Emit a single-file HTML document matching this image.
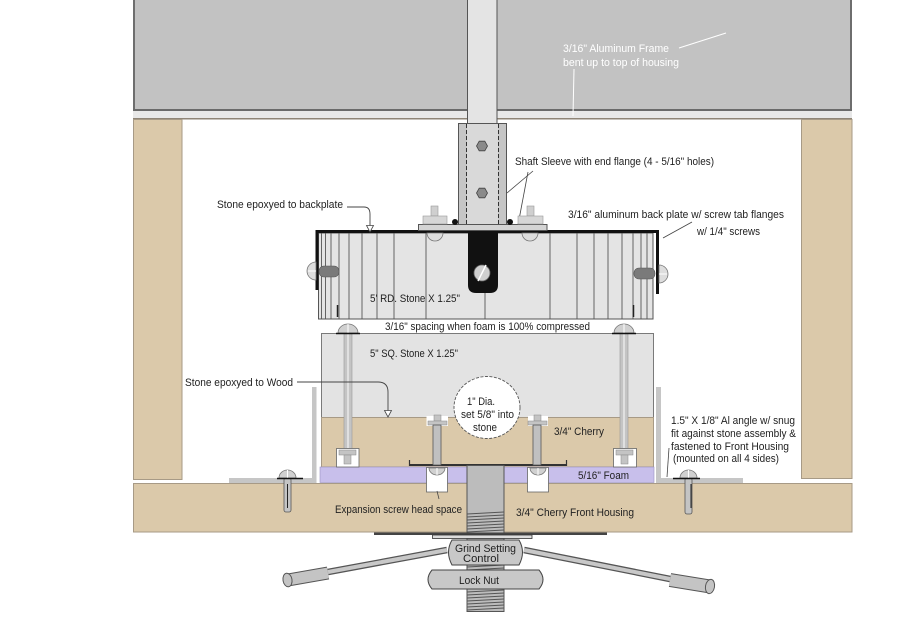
<!DOCTYPE html>
<html><head><meta charset="utf-8"><style>
html,body{margin:0;padding:0;background:#fff;}
svg{display:block;}
text{font-family:"Liberation Sans",sans-serif;font-size:11px;fill:#222;}
</style></head><body>
<svg width="900" height="636" viewBox="0 0 900 636" xmlns="http://www.w3.org/2000/svg">
<rect width="900" height="636" fill="#fff"/>

<!-- Top grey panel -->
<rect x="133" y="0" width="719" height="110" fill="#c2c2c2"/>
<rect x="133" y="0" width="2" height="111" fill="#6e6e6e"/>
<rect x="850" y="0" width="2" height="111" fill="#6e6e6e"/>
<rect x="133" y="109" width="719" height="2" fill="#6a6a6a"/>
<rect x="133" y="111" width="719" height="7" fill="#e8e8e8"/>
<rect x="133" y="118" width="719" height="1.5" fill="#8f8577"/>

<!-- white labels top -->
<text x="563" y="52" textLength="106" lengthAdjust="spacingAndGlyphs" style="fill:#fff">3/16" Aluminum Frame</text>
<text x="563" y="66" textLength="116" lengthAdjust="spacingAndGlyphs" style="fill:#fff">bent up  to top of housing</text>
<line x1="679" y1="48" x2="726" y2="33" stroke="#fff" stroke-width="1"/>
<line x1="574" y1="69" x2="573" y2="116" stroke="#fff" stroke-width="1"/>

<!-- Tan side columns -->
<rect x="133.5" y="119.5" width="48.5" height="360" fill="#dbc9aa" stroke="#a79a86" stroke-width="1"/>
<rect x="801.5" y="119.5" width="50.5" height="359" fill="#dbc9aa" stroke="#a79a86" stroke-width="1"/>

<!-- Front housing -->
<rect x="133.5" y="483.5" width="718.5" height="48.5" fill="#dbc9aa" stroke="#a79a86" stroke-width="1"/>

<!-- Top shaft -->
<rect x="467.5" y="-1" width="29.5" height="125" fill="#e4e4e4" stroke="#555" stroke-width="1"/>

<!-- Sleeve -->
<rect x="458.5" y="123.5" width="48" height="101" fill="#c6c6c6" stroke="#555" stroke-width="1"/>
<rect x="467" y="124" width="31" height="100" fill="#d9d9d9"/>
<line x1="466.5" y1="124" x2="466.5" y2="224" stroke="#333" stroke-width="1" stroke-dasharray="4 2"/>
<line x1="498.5" y1="124" x2="498.5" y2="224" stroke="#333" stroke-width="1" stroke-dasharray="4 2"/>
<polygon points="487.5,146 484.8,150.8 479.2,150.8 476.5,146 479.2,141.2 484.8,141.2" fill="#8a8a8a" stroke="#444" stroke-width="0.8"/>
<polygon points="487.5,193 484.8,197.8 479.2,197.8 476.5,193 479.2,188.2 484.8,188.2" fill="#8a8a8a" stroke="#444" stroke-width="0.8"/>

<!-- Shaft sleeve label -->
<text x="515" y="165" textLength="199" lengthAdjust="spacingAndGlyphs">Shaft Sleeve with end flange (4 - 5/16" holes)</text>
<line x1="533" y1="171" x2="507" y2="193" stroke="#444" stroke-width="0.8"/>
<line x1="528" y1="172" x2="518" y2="225" stroke="#444" stroke-width="0.8"/>

<!-- Round stone body -->
<rect x="318.5" y="233" width="334.5" height="86" fill="#e4e4e4" stroke="#555" stroke-width="1"/>
<g stroke="#555" stroke-width="0.9">
<line x1="321.5" y1="233" x2="321.5" y2="319"/>
<line x1="325.5" y1="233" x2="325.5" y2="319"/>
<line x1="331" y1="233" x2="331" y2="319"/>
<line x1="339" y1="233" x2="339" y2="319"/>
<line x1="349" y1="233" x2="349" y2="319"/>
<line x1="362" y1="233" x2="362" y2="319"/>
<line x1="377" y1="233" x2="377" y2="319"/>
<line x1="394" y1="233" x2="394" y2="319"/>
<line x1="426" y1="233" x2="426" y2="319"/>
<line x1="485" y1="290" x2="485" y2="319"/>
<line x1="550" y1="233" x2="550" y2="319"/>
<line x1="577" y1="233" x2="577" y2="319"/>
<line x1="594" y1="233" x2="594" y2="319"/>
<line x1="608" y1="233" x2="608" y2="319"/>
<line x1="622" y1="233" x2="622" y2="319"/>
<line x1="633" y1="233" x2="633" y2="319"/>
<line x1="641" y1="233" x2="641" y2="319"/>
<line x1="647" y1="233" x2="647" y2="319"/>
</g>
<line x1="337.5" y1="305" x2="337.5" y2="317" stroke="#222" stroke-width="1.5"/>
<line x1="633.5" y1="305" x2="633.5" y2="317" stroke="#222" stroke-width="1.5"/>

<!-- back plate black -->
<path d="M317,290 V231.5 H657.5 V294" fill="none" stroke="#111" stroke-width="3"/>

<!-- side screws -->
<path d="M316,262 A9,9 0 0 0 316,280 Z" fill="#ddd" stroke="#777" stroke-width="0.8"/>
<line x1="308" y1="271" x2="316" y2="271" stroke="#fff" stroke-width="1"/>
<rect x="319" y="266" width="20" height="11" rx="5" fill="#7a7a7a" stroke="#555" stroke-width="0.6"/>
<path d="M659,265 A9,9 0 0 1 659,283 Z" fill="#ddd" stroke="#777" stroke-width="0.8"/>
<line x1="659" y1="274" x2="667" y2="274" stroke="#fff" stroke-width="1"/>
<rect x="634" y="268" width="21" height="11" rx="5" fill="#7a7a7a" stroke="#555" stroke-width="0.6"/>

<!-- top semi circle heads -->
<path d="M427,233 A8,8 0 0 0 443,233 Z" fill="#ddd" stroke="#777" stroke-width="0.8"/>
<path d="M522,233 A8,8 0 0 0 538,233 Z" fill="#ddd" stroke="#777" stroke-width="0.8"/>

<!-- Flange plate & bolts -->
<rect x="418.5" y="224.5" width="128.5" height="6" fill="#d4d4d4" stroke="#555" stroke-width="1"/>
<rect x="431" y="206" width="7" height="10" fill="#cfcfcf" stroke="#999" stroke-width="0.6"/>
<rect x="423" y="216" width="24" height="8" fill="#d6d6d6" stroke="#999" stroke-width="0.6"/>
<rect x="527" y="206" width="7" height="10" fill="#cfcfcf" stroke="#999" stroke-width="0.6"/>
<rect x="518" y="216" width="25" height="8" fill="#d6d6d6" stroke="#999" stroke-width="0.6"/>
<circle cx="455" cy="222" r="3" fill="#111"/>
<circle cx="510" cy="222" r="3" fill="#111"/>

<!-- Black tab -->
<path d="M468,231 H498 V285 Q498,293 490,293 H476 Q468,293 468,285 Z" fill="#111"/>
<circle cx="482" cy="273" r="8" fill="#cfcfcf" stroke="#666" stroke-width="0.8"/>
<line x1="478" y1="281" x2="486" y2="265" stroke="#fff" stroke-width="1.5"/>

<!-- labels round stone -->
<text x="217" y="208" textLength="126" lengthAdjust="spacingAndGlyphs">Stone epoxyed to backplate</text>
<path d="M347,207 H364 Q370,207 370,214 V226" fill="none" stroke="#444" stroke-width="0.9"/>
<polygon points="366.5,225.5 373.5,225.5 370,232" fill="#fff" stroke="#444" stroke-width="0.8"/>
<text x="568" y="218" textLength="216" lengthAdjust="spacingAndGlyphs">3/16" aluminum back plate w/ screw tab flanges</text>
<text x="697" y="235" textLength="63" lengthAdjust="spacingAndGlyphs">w/ 1/4" screws</text>
<line x1="692" y1="222" x2="663" y2="238" stroke="#444" stroke-width="0.8"/>
<text x="370" y="302" textLength="90" lengthAdjust="spacingAndGlyphs">5' RD. Stone  X 1.25"</text>
<text x="385" y="330" textLength="205" lengthAdjust="spacingAndGlyphs">3/16" spacing when foam is 100% compressed</text>

<!-- Aluminum angles -->
<rect x="312" y="387" width="4.5" height="96" fill="#c6c6c6"/>
<rect x="229" y="478" width="87" height="5" fill="#c6c6c6"/>
<rect x="656" y="387" width="5" height="96" fill="#c6c6c6"/>
<rect x="656" y="478" width="87" height="5" fill="#c6c6c6"/>

<!-- Square stone -->
<rect x="321.5" y="333.5" width="332" height="84" fill="#e3e3e3" stroke="#7a7a7a" stroke-width="1"/>
<!-- Cherry block -->
<rect x="321.5" y="417.5" width="332" height="49.5" fill="#dbc9aa" stroke="#a79a86" stroke-width="1"/>
<!-- Foam -->
<rect x="320" y="467" width="334" height="15.5" fill="#c8bfeb" stroke="#9a92bf" stroke-width="0.6"/>

<!-- vertical screws through square stone -->
<rect x="344" y="333" width="8" height="116" fill="#c4c4c4" stroke="#999" stroke-width="0.6"/>
<line x1="348" y1="334" x2="348" y2="448" stroke="#e0e0e0" stroke-width="2"/>
<path d="M338,333 A10,9 0 0 1 358,333 Z" fill="#d0d0d0" stroke="#777" stroke-width="0.8"/>
<line x1="348" y1="324" x2="348" y2="333" stroke="#fff" stroke-width="1"/>
<line x1="336" y1="333.5" x2="360" y2="333.5" stroke="#111" stroke-width="1.5"/>
<rect x="336.5" y="448.5" width="22.5" height="18.5" fill="#fff" stroke="#666" stroke-width="0.8"/>
<rect x="339" y="450" width="17" height="5" fill="#c4c4c4" stroke="#888" stroke-width="0.5"/>
<rect x="344" y="455" width="7" height="9" fill="#c4c4c4" stroke="#888" stroke-width="0.5"/>

<rect x="620" y="333" width="8" height="116" fill="#c4c4c4" stroke="#999" stroke-width="0.6"/>
<line x1="624" y1="334" x2="624" y2="448" stroke="#e0e0e0" stroke-width="2"/>
<path d="M614,333 A10,9 0 0 1 634,333 Z" fill="#d0d0d0" stroke="#777" stroke-width="0.8"/>
<line x1="624" y1="324" x2="624" y2="333" stroke="#fff" stroke-width="1"/>
<line x1="612" y1="333.5" x2="636" y2="333.5" stroke="#111" stroke-width="1.5"/>
<rect x="613.5" y="448.5" width="23" height="18.5" fill="#fff" stroke="#666" stroke-width="0.8"/>
<rect x="616" y="450" width="17" height="5" fill="#c4c4c4" stroke="#888" stroke-width="0.5"/>
<rect x="621" y="455" width="7" height="9" fill="#c4c4c4" stroke="#888" stroke-width="0.5"/>

<!-- Screws into housing through angles -->
<rect x="284" y="478" width="7" height="34" rx="2" fill="#c4c4c4" stroke="#555" stroke-width="0.8"/>
<line x1="287.5" y1="484" x2="287.5" y2="508" stroke="#222" stroke-width="1"/>
<path d="M279,478 A8.5,8 0 0 1 296,478 Z" fill="#d0d0d0" stroke="#777" stroke-width="0.8"/>
<line x1="287.5" y1="470" x2="287.5" y2="478" stroke="#fff" stroke-width="1"/>
<line x1="277" y1="478.5" x2="303" y2="478.5" stroke="#111" stroke-width="1.5"/>

<rect x="685" y="478" width="7" height="36" rx="2" fill="#c4c4c4" stroke="#555" stroke-width="0.8"/>
<line x1="691" y1="484" x2="691" y2="508" stroke="#222" stroke-width="1"/>
<path d="M680,478 A8.5,8 0 0 1 697,478 Z" fill="#d0d0d0" stroke="#777" stroke-width="0.8"/>
<line x1="688.5" y1="470" x2="688.5" y2="478" stroke="#fff" stroke-width="1"/>
<line x1="673" y1="478.5" x2="700" y2="478.5" stroke="#111" stroke-width="1.5"/>

<!-- Flange plate under cherry -->
<line x1="409" y1="465" x2="567" y2="465" stroke="#333" stroke-width="2"/>
<line x1="409.5" y1="460" x2="409.5" y2="466" stroke="#333" stroke-width="1.2"/>
<line x1="566.5" y1="460" x2="566.5" y2="466" stroke="#333" stroke-width="1.2"/>

<!-- cherry screws -->
<rect x="426.5" y="416" width="21.5" height="10" fill="#fff"/>
<rect x="434" y="415" width="7" height="6" fill="#c4c4c4" stroke="#888" stroke-width="0.5"/>
<rect x="428" y="421" width="19" height="4" fill="#c4c4c4" stroke="#888" stroke-width="0.5"/>
<rect x="433" y="425" width="8" height="40" fill="#c0c0c0" stroke="#555" stroke-width="0.8"/>
<rect x="426.5" y="467.5" width="21" height="24.5" fill="#fff" stroke="#666" stroke-width="0.8"/>
<path d="M429,468 A8,7 0 0 0 445,468 Z" fill="#d0d0d0" stroke="#777" stroke-width="0.8"/>
<line x1="437" y1="468" x2="437" y2="475" stroke="#fff" stroke-width="1"/>

<rect x="528" y="416" width="20" height="10" fill="#fff"/>
<rect x="534" y="415" width="7" height="6" fill="#c4c4c4" stroke="#888" stroke-width="0.5"/>
<rect x="528" y="421" width="19" height="4" fill="#c4c4c4" stroke="#888" stroke-width="0.5"/>
<rect x="533" y="425" width="8" height="40" fill="#c0c0c0" stroke="#555" stroke-width="0.8"/>
<rect x="527.5" y="467.5" width="21" height="24.5" fill="#fff" stroke="#666" stroke-width="0.8"/>
<path d="M530,468 A8,7 0 0 0 546,468 Z" fill="#d0d0d0" stroke="#777" stroke-width="0.8"/>
<line x1="538" y1="468" x2="538" y2="475" stroke="#fff" stroke-width="1"/>

<!-- 1" dia circle -->
<ellipse cx="487" cy="407.5" rx="33" ry="31" fill="#fff" stroke="#555" stroke-width="0.9" stroke-dasharray="3 1.5"/>
<text x="481" y="405" text-anchor="middle" textLength="28" lengthAdjust="spacingAndGlyphs">1" Dia.</text>
<text x="487.5" y="418" text-anchor="middle" textLength="53" lengthAdjust="spacingAndGlyphs">set 5/8" into</text>
<text x="485" y="431" text-anchor="middle" textLength="24" lengthAdjust="spacingAndGlyphs">stone</text>

<!-- Central threaded shaft -->
<rect x="467" y="465.5" width="37" height="146" fill="#bcbcbc" stroke="#555" stroke-width="1"/>
<g stroke="#555" stroke-width="1">
<line x1="467" y1="514" x2="504" y2="512"/>
<line x1="467" y1="517" x2="504" y2="515"/>
<line x1="467" y1="520" x2="504" y2="518"/>
<line x1="467" y1="523" x2="504" y2="521"/>
<line x1="467" y1="526" x2="504" y2="524"/>
<line x1="467" y1="529" x2="504" y2="527"/>
<line x1="467" y1="532" x2="504" y2="530"/>
<line x1="467" y1="567" x2="504" y2="565"/>
<line x1="467" y1="570" x2="504" y2="568"/>
<line x1="467" y1="592" x2="504" y2="590"/>
<line x1="467" y1="595" x2="504" y2="593"/>
<line x1="467" y1="598" x2="504" y2="596"/>
<line x1="467" y1="601" x2="504" y2="599"/>
<line x1="467" y1="604" x2="504" y2="602"/>
<line x1="467" y1="607" x2="504" y2="605"/>
<line x1="467" y1="610" x2="504" y2="608"/>
</g>

<!-- Bottom plates -->
<rect x="374" y="532.5" width="233" height="2.5" fill="#444"/>
<rect x="432.5" y="535" width="99.5" height="3.5" fill="#ddd" stroke="#333" stroke-width="0.8"/>

<!-- Handles -->
<line x1="447" y1="550" x2="328" y2="572" stroke="#555" stroke-width="6.5"/>
<line x1="447" y1="550" x2="328" y2="572" stroke="#c8c8c8" stroke-width="4"/>
<line x1="328" y1="573" x2="288" y2="580" stroke="#555" stroke-width="13"/>
<line x1="328" y1="573" x2="288" y2="580" stroke="#c4c4c4" stroke-width="11"/>
<ellipse cx="287.5" cy="580" rx="4.5" ry="6.8" transform="rotate(-10 287.5 580)" fill="#c4c4c4" stroke="#555" stroke-width="1"/>

<line x1="524" y1="550" x2="670" y2="579" stroke="#555" stroke-width="6.5"/>
<line x1="524" y1="550" x2="670" y2="579" stroke="#c8c8c8" stroke-width="4"/>
<line x1="670" y1="580" x2="710" y2="586.5" stroke="#555" stroke-width="14"/>
<line x1="670" y1="580" x2="710" y2="586.5" stroke="#c4c4c4" stroke-width="12"/>
<ellipse cx="710" cy="586.5" rx="4.5" ry="7.2" transform="rotate(10 710 586.5)" fill="#c4c4c4" stroke="#555" stroke-width="1"/>

<!-- Knob -->
<path d="M452,540 H519 Q526,552 519,565 H452 Q445,552 452,540 Z" fill="#c8c8c8" stroke="#444" stroke-width="1"/>
<text x="485.5" y="552" text-anchor="middle" textLength="61" lengthAdjust="spacingAndGlyphs">Grind Setting</text>
<text x="481" y="562" text-anchor="middle" textLength="36" lengthAdjust="spacingAndGlyphs">Control</text>
<!-- Lock nut -->
<path d="M432,570 H539 Q547,579.5 539,589 H432 Q424,579.5 432,570 Z" fill="#c8c8c8" stroke="#444" stroke-width="1"/>
<text x="479" y="584" text-anchor="middle" textLength="40" lengthAdjust="spacingAndGlyphs">Lock Nut</text>

<!-- Labels lower -->
<text x="370" y="357" textLength="88" lengthAdjust="spacingAndGlyphs">5" SQ. Stone  X 1.25"</text>
<text x="185" y="386" textLength="108" lengthAdjust="spacingAndGlyphs">Stone epoxyed to Wood</text>
<path d="M297,382 H378 Q388,382 388,392 V411" fill="none" stroke="#444" stroke-width="0.9"/>
<polygon points="384.5,410.5 391.5,410.5 388,417" fill="#fff" stroke="#444" stroke-width="0.8"/>
<text x="554" y="435" textLength="50" lengthAdjust="spacingAndGlyphs">3/4" Cherry</text>
<text x="578" y="479" textLength="51" lengthAdjust="spacingAndGlyphs">5/16" Foam</text>
<text x="671" y="424" textLength="124" lengthAdjust="spacingAndGlyphs">1.5" X 1/8" Al angle w/ snug</text>
<text x="671" y="437" textLength="125" lengthAdjust="spacingAndGlyphs">fit against stone assembly &amp;</text>
<text x="671" y="450" textLength="118" lengthAdjust="spacingAndGlyphs">fastened to Front Housing</text>
<text x="673" y="462" textLength="106" lengthAdjust="spacingAndGlyphs">(mounted on all 4 sides)</text>
<line x1="669" y1="448" x2="667" y2="477" stroke="#444" stroke-width="0.8"/>
<text x="335" y="513" textLength="127" lengthAdjust="spacingAndGlyphs">Expansion screw head space</text>
<line x1="437" y1="491" x2="439" y2="499" stroke="#444" stroke-width="0.8"/>
<text x="516" y="516" textLength="118" lengthAdjust="spacingAndGlyphs">3/4" Cherry Front Housing</text>
</svg>
</body></html>
